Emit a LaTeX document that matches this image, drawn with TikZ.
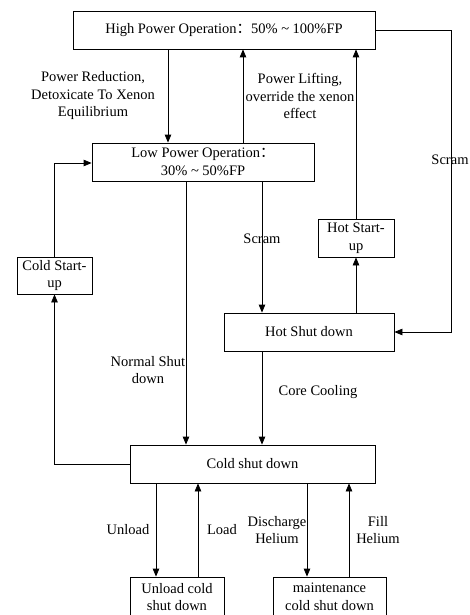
\documentclass[tikz,border=0pt]{standalone}
\usepackage{fontspec}
\setmainfont{Liberation Serif}
\newfontfamily\cjk{Noto Sans CJK SC}
\usetikzlibrary{arrows.meta,positioning,calc}
\newcommand{\fcolon}{{\cjk ：}}
\tikzset{
  box/.style={draw, line width=0.8pt, align=center, inner sep=2pt,
              font=\fontsize{14.5}{17.5}\selectfont},
  arr/.style={-{Triangle[length=8pt,width=6.5pt]}, line width=0.8pt},
  ln/.style={line width=0.8pt},
  lab/.style={font=\fontsize{14.5}{17.5}\selectfont, align=center, inner sep=0pt},
}
\begin{document}
\begin{tikzpicture}[x=1pt,y=-1pt]
    \useasboundingbox (0,0) rectangle (470,615);
    % states
    \node[box, minimum width=302pt, minimum height=38pt] (hp) at (224,30) {High Power Operation\fcolon 50\% \textasciitilde{} 100\%FP};
    \node[box, minimum width=222pt, minimum height=38pt] (lp) at (203,162) {Low Power Operation\fcolon\\30\% \textasciitilde{} 50\%FP};
    \node[box, minimum width=75pt, minimum height=37pt] (cs) at (54.5,275.5) {Cold Start-\\up};
    \node[box, minimum width=76pt, minimum height=38pt] (hs) at (356,238) {Hot Start-\\up};
    \node[box, minimum width=170pt, minimum height=38pt] (hsd) at (309,332) {Hot Shut down};
    \node[box, minimum width=245pt, minimum height=38pt] (csd) at (252.5,464) {Cold shut down};
    \node[box, minimum width=94pt, minimum height=40pt] (ucsd) at (177,597) {Unload cold\\shut down};
    \node[box, minimum width=113pt, minimum height=40pt] (mcsd) at (329.5,597) {maintenance\\cold shut down};
    % columns of the connectors
    \coordinate (xa) at (168,0);
    \coordinate (xb) at (243,0);
    \coordinate (xc) at (186,0);
    \coordinate (xd) at (262,0);
    \coordinate (xe) at (156,0);
    \coordinate (xf) at (198,0);
    \coordinate (xg) at (307,0);
    \coordinate (xh) at (349,0);
    \coordinate (xr) at (451,0);
    \coordinate (yl) at (0,163);
    % connectors
    \draw[arr] (hp.south -| xa) -- (lp.north -| xa);
    \draw[arr] (lp.north -| xb) -- (hp.south -| xb);
    \draw[arr] (hs.north) -- (hp.south -| hs.north);
    \draw[arr] (hp.east) -| (xr |- hsd.east) -- (hsd.east);
    \draw[arr] (lp.south -| xd) -- (hsd.north -| xd);
    \draw[arr] (hsd.north -| hs.south) -- (hs.south);
    \draw[arr] (lp.south -| xc) -- (csd.north -| xc);
    \draw[arr] (hsd.south -| xd) -- (csd.north -| xd);
    \draw[arr] (csd.west) -| (cs.south);
    \draw[arr] (cs.north) |- (lp.west |- yl);
    \draw[arr] (csd.south -| xe) -- (ucsd.north -| xe);
    \draw[arr] (ucsd.north -| xf) -- (csd.south -| xf);
    \draw[arr] (csd.south -| xg) -- (mcsd.north -| xg);
    \draw[arr] (mcsd.north -| xh) -- (csd.south -| xh);
    % labels
    \node[lab] (lred) at (93,96) {Power Reduction,\\Detoxicate To Xenon\\Equilibrium};
    \node[lab] (llift) at (300,96) {Power Lifting,\\override the xenon\\effect};
    \node[lab] (lscr) at (450,160) {Scram};
    \node[lab] (lscl) at (262,239) {Scram};
    \node[lab] (lnorm) at (148,370) {Normal Shut\\down};
    \node[lab] (lcore) at (318,392) {Core Cooling};
    \node[lab] (lunl) at (128,530) {Unload};
    \node[lab] (lload) at (222,530) {Load};
    \node[lab] (ldis) at (277,530) {Discharge\\Helium};
    \node[lab] (lfill) at (378,530) {Fill\\Helium};
\end{tikzpicture}
\end{document}
